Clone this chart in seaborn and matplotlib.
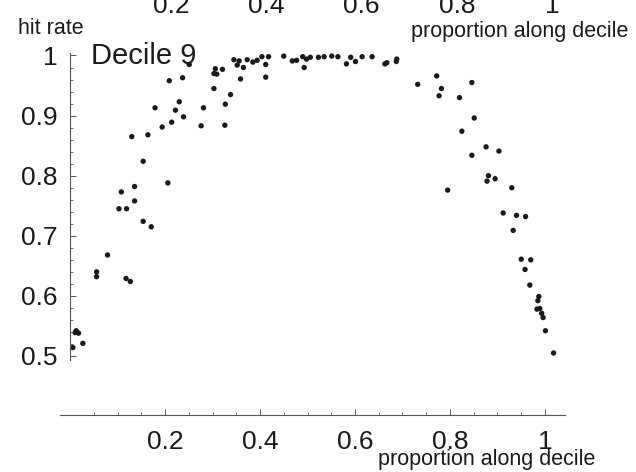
import matplotlib
matplotlib.use("Agg")
import matplotlib.pyplot as plt
import matplotlib.transforms as mtransforms
from matplotlib.ticker import MultipleLocator, FixedLocator
import seaborn as sns

# proportion along decile (x) and hit rate (y)
proportion = [
    0.006, 0.011, 0.013, 0.018, 0.027, 0.056, 0.056, 0.079, 0.103, 0.108,
    0.118, 0.119, 0.127, 0.130, 0.136, 0.136, 0.154, 0.154, 0.164, 0.171,
    0.179, 0.194, 0.206, 0.209, 0.214, 0.222, 0.230, 0.237, 0.239, 0.251,
    0.276, 0.281, 0.303, 0.303, 0.306, 0.309, 0.321, 0.326, 0.327, 0.338,
    0.345, 0.352, 0.356, 0.359, 0.365, 0.373, 0.385, 0.394, 0.404, 0.412,
    0.412, 0.418, 0.450, 0.468, 0.477, 0.490, 0.493, 0.498, 0.506, 0.523,
    0.535, 0.551, 0.564, 0.582, 0.591, 0.601, 0.615, 0.636, 0.663, 0.667,
    0.687, 0.688, 0.732, 0.772, 0.777, 0.782, 0.795, 0.820, 0.825, 0.846,
    0.846, 0.851, 0.876, 0.878, 0.881, 0.895, 0.903, 0.912, 0.930, 0.933,
    0.940, 0.950, 0.958, 0.959, 0.968, 0.970, 0.983, 0.985, 0.987, 0.989,
    0.993, 0.996, 1.001, 1.018,
]
hit_rate = [
    0.514, 0.539, 0.542, 0.538, 0.521, 0.640, 0.632, 0.668, 0.745, 0.773,
    0.629, 0.745, 0.624, 0.865, 0.782, 0.758, 0.824, 0.724, 0.868, 0.715,
    0.913, 0.881, 0.788, 0.958, 0.889, 0.909, 0.923, 0.963, 0.898, 0.985,
    0.883, 0.913, 0.945, 0.970, 0.978, 0.969, 0.977, 0.884, 0.919, 0.935,
    0.993, 0.984, 0.991, 0.961, 0.980, 0.993, 0.989, 0.992, 0.998, 0.985,
    0.964, 0.998, 0.999, 0.991, 0.992, 0.998, 0.980, 0.994, 0.997, 0.997,
    0.998, 0.999, 0.998, 0.986, 0.997, 0.990, 0.998, 0.998, 0.986, 0.988,
    0.990, 0.994, 0.952, 0.966, 0.933, 0.945, 0.776, 0.930, 0.874, 0.955,
    0.834, 0.896, 0.848, 0.791, 0.800, 0.795, 0.841, 0.738, 0.780, 0.709,
    0.734, 0.661, 0.644, 0.732, 0.618, 0.660, 0.578, 0.592, 0.599, 0.579,
    0.571, 0.564, 0.542, 0.505,
]

x_major = [0.2, 0.4, 0.6, 0.8, 1.0]
x_labels = ["0.2", "0.4", "0.6", "0.8", "1"]
y_major = [0.5, 0.6, 0.7, 0.8, 0.9, 1.0]
y_labels = ["0.5", "0.6", "0.7", "0.8", "0.9", "1"]

sns.set_style("white")
plt.rcParams["font.family"] = ["Liberation Sans", "DejaVu Sans"]

fig = plt.figure(figsize=(6.36, 4.72), dpi=100)
ax = fig.add_axes([0.03538, 0.05477, 0.95597, 0.92951])

sns.scatterplot(x=proportion, y=hit_rate, ax=ax, s=15, color="#1a1a1a",
                edgecolor="none", linewidth=0)

ax.set_xlim(-0.1, 1.18)
ax.set_ylim(0.35, 1.08)

axis_col = "#555555"
for side in ["top", "right"]:
    ax.spines[side].set_visible(False)
ax.spines["left"].set_position(("data", 0))
ax.spines["bottom"].set_position(("data", 0.402))
ax.spines["left"].set_bounds(0.493, 1.004)
ax.spines["bottom"].set_bounds(-0.021, 1.042)
for side in ["left", "bottom"]:
    ax.spines[side].set_color(axis_col)
    ax.spines[side].set_linewidth(0.8)

ax.set_xticks(x_major)
ax.set_xticklabels(x_labels)
ax.set_yticks(y_major)
ax.set_yticklabels(y_labels)
ax.xaxis.set_minor_locator(FixedLocator([0.05, 0.1, 0.15, 0.25, 0.3, 0.35, 0.45, 0.5,
                                         0.55, 0.65, 0.7, 0.75, 0.85, 0.9, 0.95]))
ax.yaxis.set_minor_locator(MultipleLocator(0.02))
ax.set_ylim(0.35, 1.08)

ax.tick_params(axis="both", which="major", direction="in", length=4, width=0.7,
               color=axis_col, labelsize=19, labelcolor="#1a1a1a")
ax.tick_params(axis="both", which="minor", direction="in", length=2.5, width=0.6,
               color=axis_col)
ax.tick_params(axis="x", which="major", pad=11)
ax.tick_params(axis="y", which="major", pad=9)
ax.tick_params(axis="both", which="both", bottom=True, left=True)
ax.grid(False)

# hide minor y ticks outside the drawn axis
for t, v in zip(ax.yaxis.get_minor_ticks(), ax.yaxis.get_minorticklocs()):
    if v < 0.49 or v > 1.005:
        t.set_visible(False)

ax.text(0.045, 0.986, "Decile 9", fontsize=21, color="#1a1a1a", va="baseline")
fig.text(18 / 636, 1 - 28 / 472, "hit rate", fontsize=15.5, color="#1a1a1a",
         ha="left", va="center")
fig.text(595 / 636, 1 - 460 / 472, "proportion along decile", fontsize=15.5,
         color="#1a1a1a", ha="right", va="center")

# bottom of the panel above, cut off at the top edge
for v, lab in zip(x_major, x_labels):
    fig.text((75.5 + 477 * v) / 636, 1 - 13 / 472, lab, fontsize=19,
             color="#1a1a1a", ha="center", va="baseline")
fig.text(628 / 636, 1 - 31 / 472, "proportion along decile", fontsize=15.5,
         color="#1a1a1a", ha="right", va="center")

fig.savefig("out.png", dpi=100)
